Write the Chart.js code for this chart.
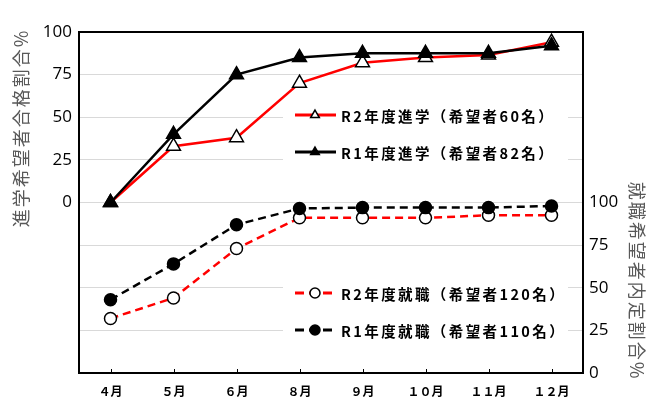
<!DOCTYPE html>
<html>
<head>
<meta charset="utf-8">
<script src="https://cdn.jsdelivr.net/npm/chart.js@4.4.0/dist/chart.umd.min.js"></script>
<style>
  html, body { margin: 0; padding: 0; background: #fff; }
  #wrap { width: 647px; height: 398px; }
</style>
</head>
<body>
<div id="wrap"><canvas id="chart" width="647" height="398"></canvas></div>
<script>
const months = ['４月', '５月', '６月', '８月', '９月', '１０月', '１１月', '１２月'];
const r2Shingaku = [0, 33, 38, 70, 82, 85, 86.5, 94];
const r1Shingaku = [0, 40, 75, 85, 87.5, 87.5, 87.5, 92];
const r2Shushoku = [32, 44, 73, 91, 91, 91, 92.5, 92.5];
const r1Shushoku = [43, 64, 87, 96.5, 97, 97, 97, 98];
const leftTicks = [0, 25, 50, 75, 100];
const rightTicks = [0, 25, 50, 75, 100];

const jpFont = '"Noto Sans CJK JP", "Noto Sans", sans-serif';
const numFont = '"Open Sans", "Noto Sans", sans-serif';

// legend boxes sit inside the plot, one for each pair of lines
const legendBoxes = [
  { x: 283, y: 97, w: 285, h: 72, rows: [[0, 115], [1, 152]] },
  { x: 283, y: 272, w: 285, h: 74, rows: [[2, 293], [3, 330]] }
];

const extras = {
  id: 'extras',
  beforeDatasetsDraw(chart) {
    const ctx = chart.ctx;
    ctx.save();
    ctx.fillStyle = '#fff';
    legendBoxes.forEach(b => ctx.fillRect(b.x, b.y, b.w, b.h));
    ctx.restore();
  },
  afterDatasetsDraw(chart) {
    const ctx = chart.ctx;
    const a = chart.chartArea;
    ctx.save();

    // frame
    ctx.strokeStyle = '#000';
    ctx.lineWidth = 2;
    ctx.strokeRect(a.left, a.top, a.right - a.left, a.bottom - a.top);

    // small inner ticks on the x axis
    const xs = chart.scales.x;
    ctx.lineWidth = 1;
    months.forEach((m, i) => {
      const px = Math.round(xs.getPixelForValue(i)) + 0.5;
      ctx.beginPath();
      ctx.moveTo(px, a.bottom);
      ctx.lineTo(px, a.bottom - 4);
      ctx.stroke();
    });

    // legends
    legendBoxes.forEach(b => {
      b.rows.forEach(([di, y]) => {
        const ds = chart.data.datasets[di];
        ctx.save();
        ctx.strokeStyle = ds.borderColor;
        ctx.lineWidth = 3;
        ctx.setLineDash(ds.borderDash ? [9, 5] : []);
        ctx.beginPath();
        ctx.moveTo(295, y);
        ctx.lineTo(336, y);
        ctx.stroke();
        ctx.setLineDash([]);
        ctx.fillStyle = ds.pointBackgroundColor;
        ctx.strokeStyle = ds.pointBorderColor;
        ctx.lineWidth = 1.5;
        Chart.helpers.drawPoint(ctx, {
          pointStyle: ds.pointStyle, radius: 5, borderWidth: 1.5, rotation: 0
        }, 315, y);
        ctx.fillStyle = '#000';
        ctx.font = 'bold 14.5px ' + jpFont;
        ctx.letterSpacing = '2.4px';
        ctx.textBaseline = 'middle';
        ctx.textAlign = 'left';
        ctx.fillText(ds.label, 341, y + 1);
        ctx.restore();
      });
    });

    // axis titles
    ctx.fillStyle = '#595959';
    ctx.font = '18px ' + jpFont;
    ctx.letterSpacing = '2px';
    ctx.textAlign = 'center';
    ctx.textBaseline = 'middle';
    ctx.save();
    ctx.translate(21, 128);
    ctx.rotate(-Math.PI / 2);
    ctx.fillText('進学希望者合格割合%', 0, 0);
    ctx.restore();
    ctx.save();
    ctx.translate(637, 281);
    ctx.rotate(Math.PI / 2);
    ctx.fillText('就職希望者内定割合%', 0, 0);
    ctx.restore();

    ctx.restore();
  }
};

new Chart(document.getElementById('chart').getContext('2d'), {
  type: 'line',
  data: {
    labels: months,
    datasets: [
      {
        label: 'R2年度進学（希望者60名）', data: r2Shingaku, yAxisID: 'y', order: 1,
        borderColor: '#ff0000', borderWidth: 2.5,
        pointStyle: 'triangle', pointRadius: 8, pointBorderWidth: 1.5,
        pointBackgroundColor: '#fff', pointBorderColor: '#000'
      },
      {
        label: 'R1年度進学（希望者82名）', data: r1Shingaku, yAxisID: 'y', order: 0,
        borderColor: '#000', borderWidth: 2.5,
        pointStyle: 'triangle', pointRadius: 8, pointBorderWidth: 1.5,
        pointBackgroundColor: '#000', pointBorderColor: '#000'
      },
      {
        label: 'R2年度就職（希望者120名）', data: r2Shushoku, yAxisID: 'y1', order: 1,
        borderColor: '#ff0000', borderWidth: 2.5, borderDash: [8, 5],
        pointStyle: 'circle', pointRadius: 6, pointBorderWidth: 1.5,
        pointBackgroundColor: '#fff', pointBorderColor: '#000'
      },
      {
        label: 'R1年度就職（希望者110名）', data: r1Shushoku, yAxisID: 'y1', order: 0,
        borderColor: '#000', borderWidth: 2.5, borderDash: [8, 5],
        pointStyle: 'circle', pointRadius: 6, pointBorderWidth: 1.5,
        pointBackgroundColor: '#000', pointBorderColor: '#000'
      }
    ]
  },
  options: {
    responsive: false,
    animation: false,
    devicePixelRatio: 1,
    layout: { padding: { top: 32, left: 0, right: 0, bottom: 0 } },
    plugins: { legend: { display: false }, tooltip: { enabled: false } },
    scales: {
      x: {
        offset: true,
        grid: { display: false, drawTicks: false },
        border: { display: false },
        ticks: { color: '#000', padding: 11, font: { family: jpFont, size: 12, weight: 'bold' } },
        afterFit: s => { s.height = 25; }
      },
      y: {
        position: 'left',
        min: -100, max: 100,
        grid: { color: '#d9d9d9', lineWidth: 1, drawTicks: false },
        border: { display: false },
        ticks: {
          stepSize: 25, padding: 7, color: '#000',
          font: { family: numFont, size: 17 },
          callback: v => leftTicks.includes(v) ? v : ''
        },
        afterFit: s => { s.width = 79; }
      },
      y1: {
        position: 'right',
        min: 0, max: 200,
        grid: { display: false, drawTicks: false },
        border: { display: false },
        ticks: {
          stepSize: 25, padding: 6, color: '#000',
          font: { family: numFont, size: 17 },
          callback: v => rightTicks.includes(v) ? v : ''
        },
        afterFit: s => { s.width = 64; }
      }
    }
  },
  plugins: [extras]
});
</script>
</body>
</html>
